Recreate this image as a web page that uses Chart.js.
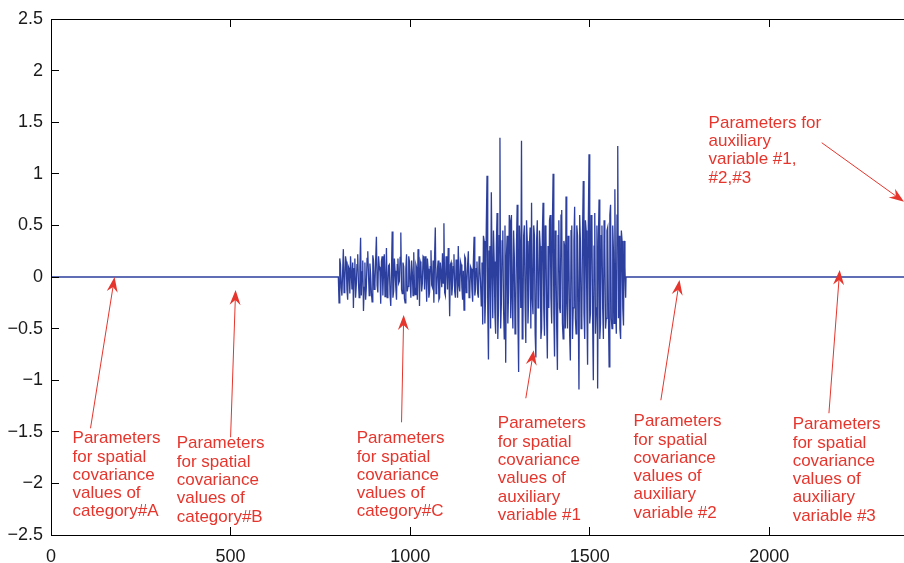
<!DOCTYPE html>
<html>
<head>
<meta charset="utf-8">
<script src="https://cdn.jsdelivr.net/npm/chart.js@4.4.0/dist/chart.umd.min.js"></script>
<style>
  html, body { margin: 0; padding: 0; background: #fff; }
  #chart { display: block; }
</style>
</head>
<body>
<canvas id="chart" width="904" height="563"></canvas>
<script>
// ===== Data =====
const xTicks = [0, 500, 1000, 1500, 2000];
const yTicks = [-2.5, -2, -1.5, -1, -0.5, 0, 0.5, 1, 1.5, 2, 2.5];
const xMax = 2375;

// flat (zero) parts of the parameter vector
const flatBefore = [0, 800];
const flatAfter = [1601, xMax];

// noisy part, every 2 units
const noiseStep = 2;
const lowStart = 802;
const lowNoise = [
  -0.25, 0.18, 0.12, -0.1, -0.18, 0.05, 0.27, -0.15, -0.05, 0.2,
  0.15, -0.12, -0.22, 0.1, 0.08, -0.16, 0.2, 0.04, -0.12, 0.14,
  -0.3, 0.08, 0.18, -0.2, -0.08, 0.12, 0.22, -0.05, -0.2, 0.1,
  0.38, -0.18, 0.05, 0.16, -0.33, -0.1, 0.14, -0.22, -0.1, 0.18,
  0.25, 0.02, -0.18, 0.13, 0.02, -0.15, -0.24, 0.21, 0.16, -0.12,
  -0.06, 0.17, 0.39, -0.08, -0.15, 0.2, 0.1, 0.05, -0.26, 0.15,
  0.2, -0.18, 0.07, 0.22, -0.19, -0.04, 0.28, -0.2, -0.1, 0.11,
  0.12, -0.17, -0.28, 0.06, 0.44, -0.2, -0.14, 0.18, 0.06, -0.1,
  -0.22, 0.12, 0.18, -0.06, -0.04, 0.19, 0.43, -0.12, -0.16, 0.14,
  0.1, -0.21, -0.25, 0.08, 0.22, -0.14, -0.09, 0.2, 0.15, -0.05,
  -0.2, 0.16, 0.05, -0.18, 0.24, -0.1, -0.17, 0.12, 0.09, -0.22,
  0.27, 0.1, -0.28, 0.15, 0.12, -0.14, -0.06, 0.2, 0.19, -0.12,
  0.2, 0.03, -0.24, 0.18, 0.08, -0.2, -0.15, 0.1, 0.26, -0.08,
  -0.1, 0.16, -0.25, 0.2, 0.48, -0.16, -0.12, 0.08, 0.16, -0.22,
  -0.2, 0.14, 0.04, -0.1, 0.23, -0.06, 0.52, -0.15, -0.18, 0.2,
  0.1, -0.12, 0.28, 0.04, -0.38, 0.12, 0.14, -0.18, -0.08, 0.1,
  0.22, -0.14, -0.2, 0.17, 0.06, -0.2, 0.3, -0.08, -0.14, 0.15,
  0.12, -0.1, -0.22, 0.06, -0.32, 0.2, 0.18, -0.15, -0.05, 0.12,
  0.25, -0.2, -0.16, 0.1, 0.08, -0.12, -0.24, 0.15, 0.39, -0.18,
  -0.12, 0.08, 0.15, -0.16, -0.2, 0.2, 0.1, -0.06, -0.28, 0.14
];
const highStart = 1202;
const highNoise = [
  -0.46, 0.4, 0.35, -0.45, -0.2, 0.5, 0.98, -0.3, -0.8, 0.25,
  0.3, -0.5, 0.82, 0.1, -0.4, 0.45, 0.15, -0.35, -0.55, 0.3,
  0.62, -0.6, -0.3, 0.4, 1.35, -0.5, -0.25, 0.35, 0.45, -0.3,
  -0.6, 0.5, -0.83, 0.2, 0.4, -0.45, -0.15, 0.6, 0.55, -0.4,
  0.6, -0.2, -0.5, 0.45, 0.2, -0.55, -0.35, 0.3, 0.7, -0.4,
  -0.92, 0.5, 0.25, -0.3, 1.32, -0.6, -0.45, 0.4, 0.5, -0.25,
  -0.64, 0.55, 0.35, -0.45, -0.2, 0.3, 0.48, -0.5, 0.72, -0.2,
  -0.36, 0.5, 0.4, -0.55, -0.78, 0.35, 0.55, -0.3, -0.25, 0.45,
  0.3, -0.6, -0.5, 0.4, 0.72, -0.3, -0.57, 0.5, 0.45, -0.4,
  -0.79, 0.3, -0.3, 0.55, 0.6, -0.2, -0.45, 0.5, 1.0, -0.35,
  -0.77, 0.45, 0.2, -0.5, -0.9, 0.4, 0.55, -0.3, -0.35, 0.6,
  0.65, -0.45, -0.6, 0.35, 0.3, -0.5, 0.78, -0.25, -0.5, 0.4,
  0.25, -0.55, -0.81, 0.45, 0.5, -0.6, -0.3, 0.35, 0.68, -0.4,
  -0.55, 0.5, 0.4, -0.3, -1.09, 0.6, 0.35, -0.5, -0.4, 0.45,
  0.93, -0.35, -0.6, 0.55, 0.45, -0.3, -0.85, 0.5, 1.19, -0.45,
  -0.35, 0.6, 0.55, -0.4, -1.0, 0.3, 0.62, -0.55, -0.3, 0.5,
  -1.08, 0.35, 0.75, -0.6, -0.45, 0.4, 0.5, -0.3, -0.6, 0.55,
  0.3, -0.5, -0.4, 0.45, 0.48, -0.35, -0.87, 0.6, 0.7, -0.4,
  -0.5, 0.5, 0.25, -0.45, 0.85, -0.3, -0.55, 0.6, 1.27, -0.4,
  0.4, -0.5, -0.6, 0.45, 0.35, -0.3, -0.47, 0.35, 0.1, -0.2
];

// ===== Annotations (anchors in data units) =====
const noteLines = [
  ["Parameters", "for spatial", "covariance", "values of", "category#A"],
  ["Parameters", "for spatial", "covariance", "values of", "category#B"],
  ["Parameters", "for spatial", "covariance", "values of", "category#C"],
  ["Parameters", "for spatial", "covariance", "values of", "auxiliary", "variable #1"],
  ["Parameters", "for spatial", "covariance", "values of", "auxiliary", "variable #2"],
  ["Parameters", "for spatial", "covariance", "values of", "auxiliary", "variable #3"],
  ["Parameters for", "auxiliary", "variable #1,", "#2,#3"]
];
const noteX = [60, 350, 851, 1244, 1622, 2065, 1831];
const noteY = [-1.553, -1.602, -1.553, -1.408, -1.388, -1.417, 1.505];
const arrowFrom = [[110, -1.466], [500, -1.553], [976, -1.408], [1322, -1.175], [1698, -1.194], [2166, -1.32], [2146, 1.301]];
const arrowTo = [[177, 0], [514, -0.126], [982, -0.369], [1344, -0.709], [1750, -0.029], [2196, 0.068], [2375, 0.728]];

// ===== Build points =====
const points = [];
flatBefore.forEach(x => points.push({ x: x, y: 0 }));
lowNoise.forEach((y, i) => points.push({ x: lowStart + i * noiseStep, y: y }));
highNoise.forEach((y, i) => points.push({ x: highStart + i * noiseStep, y: y }));
flatAfter.forEach(x => points.push({ x: x, y: 0 }));

const FONT = "'Liberation Sans', Arial, Helvetica, sans-serif";
const RED = "#e5352c";

const fmt = v => (v < 0 ? "\u2212" + Math.abs(v) : String(v));

// ===== Plugin: axes box, inward ticks, annotations =====
const matlabLook = {
  id: "matlabLook",
  afterDraw(chart) {
    const ctx = chart.ctx;
    const a = chart.chartArea;
    const xs = chart.scales.x, ys = chart.scales.y;
    const tl = 8;
    const L = Math.floor(a.left), T = Math.floor(a.top), B = Math.floor(a.bottom);
    ctx.save();
    ctx.fillStyle = "#000";
    ctx.fillRect(L, T, 1, B - T + 1);           // left axis
    ctx.fillRect(L, B, a.right - L, 1);         // bottom axis
    ctx.fillRect(L, T, a.right - L, 1);         // top box edge
    xTicks.forEach(v => {
      const px = Math.floor(xs.getPixelForValue(v));
      ctx.fillRect(px, B - tl, 1, tl);
      ctx.fillRect(px, T, 1, tl);
    });
    yTicks.forEach(v => {
      const py = Math.floor(ys.getPixelForValue(v));
      ctx.fillRect(L, py, tl, 1);
    });

    // annotations
    ctx.fillStyle = RED;
    ctx.font = "17px " + FONT;
    ctx.textAlign = "left";
    ctx.textBaseline = "alphabetic";
    noteLines.forEach((lines, i) => {
      const x0 = xs.getPixelForValue(noteX[i]);
      const y0 = ys.getPixelForValue(noteY[i]) + 6;
      lines.forEach((t, j) => ctx.fillText(t, x0, y0 + j * 18.3));
    });

    arrowFrom.forEach((f, i) => {
      const t = arrowTo[i];
      const fx = xs.getPixelForValue(f[0]), fy = ys.getPixelForValue(f[1]);
      const tx = xs.getPixelForValue(t[0]), ty = ys.getPixelForValue(t[1]);
      const len = Math.hypot(tx - fx, ty - fy);
      const ux = (tx - fx) / len, uy = (ty - fy) / len;
      const nx = -uy, ny = ux;
      const hl = 15, hw = 5.5, notch = 10;
      ctx.strokeStyle = RED;
      ctx.lineWidth = 1;
      ctx.beginPath();
      ctx.moveTo(fx, fy);
      ctx.lineTo(tx - ux * notch, ty - uy * notch);
      ctx.stroke();
      ctx.beginPath();
      ctx.moveTo(tx, ty);
      ctx.lineTo(tx - ux * hl + nx * hw, ty - uy * hl + ny * hw);
      ctx.lineTo(tx - ux * notch, ty - uy * notch);
      ctx.lineTo(tx - ux * hl - nx * hw, ty - uy * hl - ny * hw);
      ctx.closePath();
      ctx.fill();
    });
    ctx.restore();
  }
};

// ===== Chart =====
const chart = new Chart(document.getElementById("chart").getContext("2d"), {
  type: "line",
  data: {
    datasets: [{
      data: points,
      borderColor: "#2c3f9e",
      borderWidth: 1.3,
      pointRadius: 0,
      tension: 0,
      fill: false
    }]
  },
  options: {
    responsive: false,
    animation: false,
    devicePixelRatio: 1,
    layout: { padding: { top: 19, right: 0, bottom: 0, left: 0 } },
    plugins: {
      legend: { display: false },
      tooltip: { enabled: false }
    },
    scales: {
      x: {
        type: "linear",
        min: 0,
        max: xMax,
        afterBuildTicks: s => { s.ticks = xTicks.map(v => ({ value: v })); },
        afterFit: s => { s.height = 28; },
        grid: { display: false, drawTicks: false },
        border: { display: false },
        ticks: {
          autoSkip: false,
          maxRotation: 0,
          padding: 11,
          color: "#1a1a1a",
          font: { family: FONT, size: 18 },
          callback: v => fmt(v)
        }
      },
      y: {
        type: "linear",
        min: -2.5,
        max: 2.5,
        afterBuildTicks: s => { s.ticks = yTicks.map(v => ({ value: v })); },
        afterFit: s => { s.width = 51; },
        grid: { display: false, drawTicks: false },
        border: { display: false },
        ticks: {
          padding: 8,
          color: "#1a1a1a",
          font: { family: FONT, size: 18 },
          callback: v => fmt(v)
        }
      }
    }
  },
  plugins: [matlabLook]
});
</script>
</body>
</html>
